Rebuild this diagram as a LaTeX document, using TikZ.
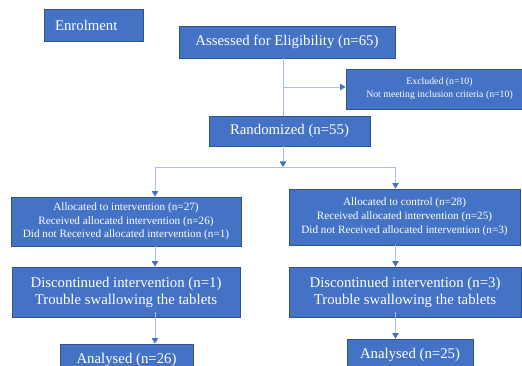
\documentclass[tikz,border=0pt]{standalone}
\usepackage{fontspec}
\setmainfont{Liberation Serif}
\usetikzlibrary{arrows.meta}
\definecolor{boxfill}{HTML}{4472C4}
\definecolor{boxline}{HTML}{2F528F}
\definecolor{conn}{HTML}{A9BFE6}
\definecolor{tipc}{HTML}{4472C4}
\tikzset{
  box/.style={draw=boxline, line width=0.9pt, fill=boxfill, text=white, align=center, inner sep=0pt, anchor=center},
  big/.style={font=\fontsize{14.8}{17}\selectfont},
  mid/.style={font=\fontsize{11.2}{13.7}\selectfont},
  small/.style={font=\fontsize{9.8}{13.3}\selectfont},
  conline/.style={draw=conn, line width=0.9pt},
  conarrow/.style={draw=conn, line width=0.9pt, -{Triangle[width=6.5pt,length=5.5pt,color=tipc,fill=tipc]}}
}
\begin{document}
\begin{tikzpicture}[x=1pt,y=-1pt]
\useasboundingbox (0,0) rectangle (522,366);
\clip (0,0) rectangle (522,366);
\node[box, big, minimum width=99pt, minimum height=32pt, text width=77pt, align=left] (enr) at (93.5,25) {Enrolment};
\node[box, big, minimum width=216pt, minimum height=32pt] (ass) at (287,42) {Assessed for Eligibility (n=65)};
\node[box, small, minimum width=187pt, minimum height=40pt] (exc) at (439.5,89) {Excluded (n=10)\\ Not meeting inclusion criteria (n=10)};
\node[box, big, minimum width=161pt, minimum height=30pt] (rnd) at (289.5,131) {Randomized (n=55)};
\node[box, mid, minimum width=230pt, minimum height=49pt] (la) at (126,221.5) {Allocated to intervention (n=27)\\ Received allocated intervention (n=26)\\ Did not Received allocated intervention (n=1)};
\node[box, mid, minimum width=231pt, minimum height=56pt] (ra) at (404.5,217) {Allocated to control (n=28)\\ Received allocated intervention (n=25)\\ Did not Received allocated intervention (n=3)};
\node[box, big, minimum width=228pt, minimum height=50pt] (ld) at (126,292) {Discontinued intervention (n=1)\\ Trouble swallowing the tablets};
\node[box, big, minimum width=232pt, minimum height=50pt] (rd) at (405,292) {Discontinued intervention (n=3)\\ Trouble swallowing the tablets};
\node[box, big, minimum width=133pt, minimum height=32pt] (lan) at (126.5,360) {Analysed (n=26)};
\node[box, big, minimum width=126pt, minimum height=31pt] (ran) at (410,354.5) {Analysed (n=25)};
\coordinate (trunk) at (283,87);
\coordinate (split) at (283,167);
\coordinate (lsplit) at (155,167);
\coordinate (rsplit) at (395.5,167);
\coordinate (lcol) at (155,0);
\coordinate (rcol) at (395.5,0);
\draw[conline] (trunk |- ass.south) -- (trunk |- rnd.north);
\draw[conarrow] (trunk) -- (trunk -| exc.west);
\draw[conarrow] (split |- rnd.south) -- (split);
\draw[conline] (lsplit) -- (rsplit);
\draw[conarrow] (lsplit) -- (lsplit |- la.north);
\draw[conarrow] (rsplit) -- (rsplit |- ra.north);
\draw[conarrow] (lcol |- la.south) -- (lcol |- ld.north);
\draw[conarrow] (rcol |- ra.south) -- (rcol |- rd.north);
\draw[conarrow] ([yshift=5pt]lcol |- ld.south) -- (lcol |- lan.north);
\draw[conarrow] ([yshift=5pt]rcol |- rd.south) -- (rcol |- ran.north);
\end{tikzpicture}
\end{document}
